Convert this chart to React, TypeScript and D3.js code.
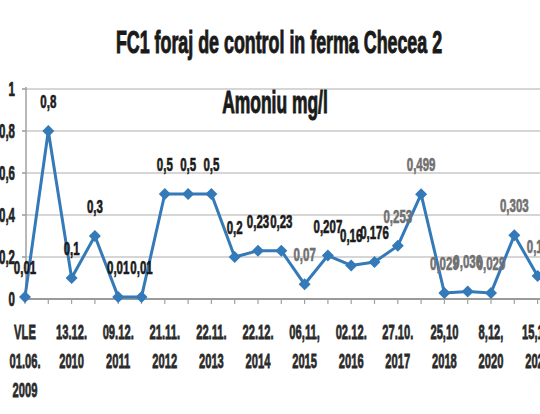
import * as d3 from 'd3';

// Amoniu mg/l, FC1 foraj de control, ferma Checea 2
const VALUES = [
  0.01, 0.8, 0.1, 0.3, 0.01, 0.01, 0.5, 0.5, 0.5, 0.2, 0.23, 0.23,
  0.07, 0.207, 0.16, 0.176, 0.253, 0.499, 0.029, 0.036, 0.029, 0.303, 0.11,
];

// category labels, shown on every second point
const CATEGORIES = [
  'VLE\n01.06.\n2009', '', '13.12.\n2010', '', '09.12.\n2011', '', '21.11.\n2012', '',
  '22.11.\n2013', '', '22.12.\n2014', '', '06,11,\n2015', '', '02.12.\n2016', '',
  '27.10.\n2017', '', '25,10\n2018', '', '8,12,\n2020', '', '15,12,\n2022',
];

const Y_TICKS = [0, 0.2, 0.4, 0.6, 0.8, 1];
const Y_TICK_LABELS = ['0', '0,2', '0,4', '0,6', '0,8', '1'];

// labels that came out grey on the scan
const GREY_LABELS = new Set([12, 16, 17, 18, 19, 20, 21, 22]);

const W = 540;
const H = 414;
const FONT = '"Liberation Sans", Arial, sans-serif';
const BLUE = '#3479b8';

// the scan is squeezed sideways and stretched upward, so text gets scaled
function Stretch({ x, y, sx = 0.82, sy, size, fill = '#1a1a1a', anchor = 'middle', heavy = 0.5, children }: any) {
  return (
    <g transform={`translate(${x},${y}) scale(${sx},${sy})`}>
      <text
        textAnchor={anchor}
        fontSize={size}
        fontWeight="bold"
        fill={fill}
        stroke={fill}
        strokeWidth={heavy}
        fontFamily={FONT}
      >
        {children}
      </text>
    </g>
  );
}

export default function App() {
  const idx = VALUES.map((_, i) => i);
  const x = d3.scalePoint<number>().domain(idx).range([25, 25 + 22 * 23.3]);
  const y = d3.scaleLinear().domain([0, 1]).range([299, 89]);
  const axisX = 26;

  const line = d3
    .line<number>()
    .x((_, i) => x(i)!)
    .y((d) => y(d));

  return (
    <svg
      width={W}
      height={H}
      style={{ position: 'absolute', left: 0, top: 0, background: '#fff' }}
    >
      <rect width={W} height={H} fill="#fff" />

      {/* gridlines */}
      {Y_TICKS.map((t) => (
        <g key={t}>
          <line
            x1={axisX}
            x2={W}
            y1={y(t)}
            y2={y(t)}
            stroke={t === 0 ? '#9a9a9a' : '#c8c8c8'}
            strokeWidth={t === 0 ? 2 : 1.5}
          />
          <line x1={axisX - 4} x2={axisX} y1={y(t)} y2={y(t)} stroke="#9a9a9a" strokeWidth={1.5} />
        </g>
      ))}
      <line x1={axisX} x2={axisX} y1={y(1) - 2} y2={y(0)} stroke="#a0a0a0" strokeWidth={1.5} />

      {/* x tick marks */}
      {idx.map((i) => (
        <line key={i} x1={x(i)} x2={x(i)} y1={y(0)} y2={y(0) + 5} stroke="#a0a0a0" strokeWidth={1.2} />
      ))}

      {/* y tick labels */}
      {Y_TICKS.map((t, k) => (
        <Stretch key={t} x={15} y={y(t) + 7} sy={1.45} size={14} anchor="end" fill="#222">
          {Y_TICK_LABELS[k]}
        </Stretch>
      ))}

      {/* x category labels */}
      {CATEGORIES.map((c, i) =>
        c
          ? c.split('\n').map((part, j) => (
              <Stretch key={`${i}-${j}`} x={x(i)} y={339 + j * 29} sx={0.8} sy={1.5} size={14} fill="#2a2a2a">
                {part}
              </Stretch>
            ))
          : null
      )}

      {/* series */}
      <path d={line(VALUES) ?? ''} fill="none" stroke={BLUE} strokeWidth={3} strokeLinejoin="round" />
      {VALUES.map((v, i) => (
        <path
          key={i}
          transform={`translate(${x(i)},${y(v)})`}
          d="M0,-6L6,0L0,6L-6,0Z"
          fill={BLUE}
        />
      ))}

      {/* data labels */}
      {VALUES.map((v, i) => (
        <Stretch
          key={i}
          x={x(i)}
          y={y(v) - 23}
          sy={1.3}
          size={14}
          fill={GREY_LABELS.has(i) ? '#707070' : '#1a1a1a'}
        >
          {String(v).replace('.', ',')}
        </Stretch>
      ))}

      {/* title */}
      <Stretch x={279} y={53} sx={0.85} sy={1.47} size={21} heavy={0.7}>
        FC1 foraj de control in ferma Checea 2
      </Stretch>
      <Stretch x={275} y={113} sx={0.83} sy={1.47} size={21} heavy={0.7}>
        Amoniu mg/l
      </Stretch>
    </svg>
  );
}
